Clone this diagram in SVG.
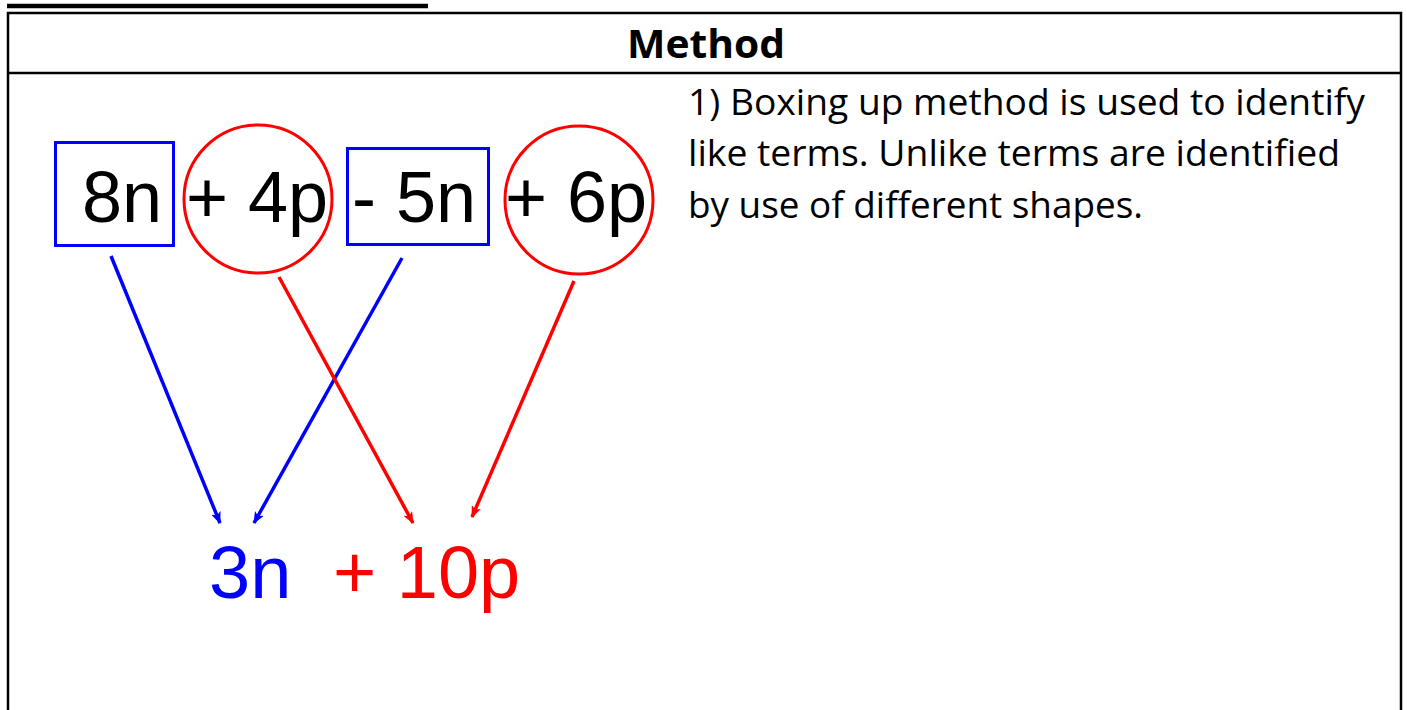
<svg xmlns="http://www.w3.org/2000/svg" width="1407" height="710" viewBox="0 0 1407 710">
<defs>
<style>
.term{font-family:"Liberation Sans",Arial,sans-serif;font-size:72px;fill:#000}
.res{font-family:"Liberation Sans",Arial,sans-serif;font-size:74px}
.body{font-family:"Open Sans","Noto Sans",sans-serif;font-size:36px;fill:#000}
.box{fill:none;stroke:#0000ff;stroke-width:3}
.circ{fill:none;stroke:#ff0000;stroke-width:3}
.blue{stroke:#0000ff;stroke-width:3.5;fill:none}
.red{stroke:#ff0000;stroke-width:3.5;fill:none}
</style>
<marker id="ab" viewBox="0 0 12 10" refX="11" refY="5" markerWidth="12" markerHeight="10" markerUnits="userSpaceOnUse" orient="auto">
<path d="M0,0 L12,5 L0,10 L3,5 Z" fill="#0000ff"/>
</marker>
<marker id="ar" viewBox="0 0 12 10" refX="11" refY="5" markerWidth="12" markerHeight="10" markerUnits="userSpaceOnUse" orient="auto">
<path d="M0,0 L12,5 L0,10 L3,5 Z" fill="#ff0000"/>
</marker>
</defs>
<rect width="1407" height="710" fill="#fff"/>
<g id="frame">
<line x1="7" y1="6" x2="428" y2="6" stroke="#000" stroke-width="4.5"/>
<rect x="8" y="13" width="1393" height="720" fill="none" stroke="#000" stroke-width="2.5"/>
<line x1="8" y1="73" x2="1401" y2="73" stroke="#000" stroke-width="2.5"/>
<text x="627" y="58" textLength="158" lengthAdjust="spacingAndGlyphs" font-family="Open Sans,Noto Sans,sans-serif" font-weight="bold" font-size="39">Method</text>
</g>
<g id="description">
<text class="body" x="688" y="115" textLength="677" lengthAdjust="spacingAndGlyphs">1) Boxing up method is used to identify</text>
<text class="body" x="688" y="166" textLength="652" lengthAdjust="spacingAndGlyphs">like terms. Unlike terms are identified</text>
<text class="body" x="688" y="218" textLength="455" lengthAdjust="spacingAndGlyphs">by use of different shapes.</text>
</g>
<g id="term-8n"><rect class="box" x="55.5" y="142.5" width="118" height="103"/><text class="term" x="82" y="222">8n</text></g>
<g id="term-4p"><circle class="circ" cx="258" cy="199" r="74"/><text class="term" x="186" y="222">+ 4p</text></g>
<g id="term-5n"><rect class="box" x="347.5" y="148.5" width="141" height="96"/><text class="term" x="352" y="222">- 5n</text></g>
<g id="term-6p"><circle class="circ" cx="579" cy="200" r="74"/><text class="term" x="505" y="222">+ 6p</text></g>
<g id="result-n"><text class="res" x="209" y="598" fill="#0000ff">3n</text></g>
<g id="result-p"><text class="res" x="333" y="598" fill="#ff0000">+ 10p</text></g>
<g id="connectors">
<line class="blue" x1="111" y1="256" x2="220" y2="523" marker-end="url(#ab)"/>
<line class="blue" x1="402" y1="258" x2="254" y2="523" marker-end="url(#ab)"/>
<line class="red" x1="279" y1="277" x2="413" y2="523" marker-end="url(#ar)"/>
<line class="red" x1="574" y1="281" x2="472" y2="517" marker-end="url(#ar)"/>
</g>
</svg>
